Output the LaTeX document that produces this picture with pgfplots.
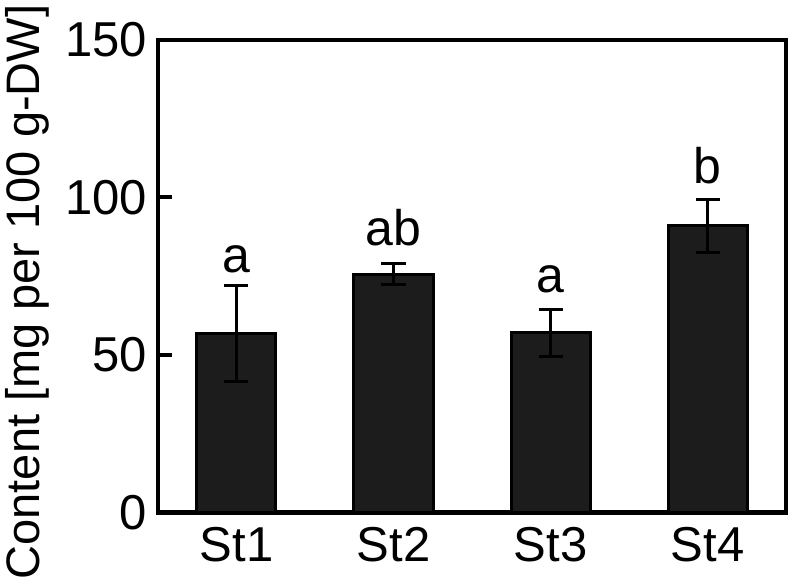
\documentclass[border=0pt]{standalone}
\usepackage{pgfplots}
\pgfplotsset{compat=1.18}
\usepackage{fontspec}
\setmainfont{Liberation Sans}
\definecolor{barfill}{HTML}{1C1C1C}
\begin{document}
\begin{tikzpicture}
\begin{axis}[
  name=ax,
  scale only axis,
  width=628pt, height=472.5pt,
  xmin=0.5, xmax=4.5,
  ymin=0, ymax=150,
  ytick={0,50,100,150},
  xtick={1,2,3,4},
  xticklabels={St1,St2,St3,St4},
  ytick pos=left,
  xtick style={draw=none},
  major tick length=14pt,
  every tick/.style={line width=4pt, black},
  axis line style={line width=4.5pt},
  /pgf/number format/assume math mode=true,
  ticklabel style={font=\fontsize{49}{55}\selectfont},
  yticklabel style={inner sep=0pt, xshift=-11pt},
  xticklabel style={inner sep=0pt, yshift=-15pt, anchor=north},
  clip=false,
]
\addplot[ybar, bar width=79pt, fill=barfill, draw=black, line width=3pt,
  error bars/.cd, y dir=both, y explicit,
  error bar style={line width=3pt, black},
  error mark options={rotate=90, mark size=12pt, line width=3pt, black}]
  coordinates {
   (1,56.9) +- (0,15.2)
   (2,75.7) +- (0,3.3)
   (3,57.1) +- (0,7.5)
   (4,91.0) +- (0,8.4)
  };
\node[anchor=base, font=\fontsize{50}{56}\selectfont] at (axis cs:1,76.3) {a};
\node[anchor=base, font=\fontsize{50}{56}\selectfont] at (axis cs:2,84.9) {ab};
\node[anchor=base, font=\fontsize{50}{56}\selectfont] at (axis cs:3,69.7) {a};
\node[anchor=base, font=\fontsize{50}{56}\selectfont] at (axis cs:4,104.6) {b};
\node[rotate=90, anchor=center, inner sep=0pt, font=\fontsize{47}{52}\selectfont] at (axis cs:-0.334,70) {Content [mg per 100 g-DW]};
\end{axis}
\pgfresetboundingbox
\path ([shift={(-158pt,-73.5pt)}]ax.south west) rectangle ([shift={(9pt,40pt)}]ax.north east);
\end{tikzpicture}
\end{document}
